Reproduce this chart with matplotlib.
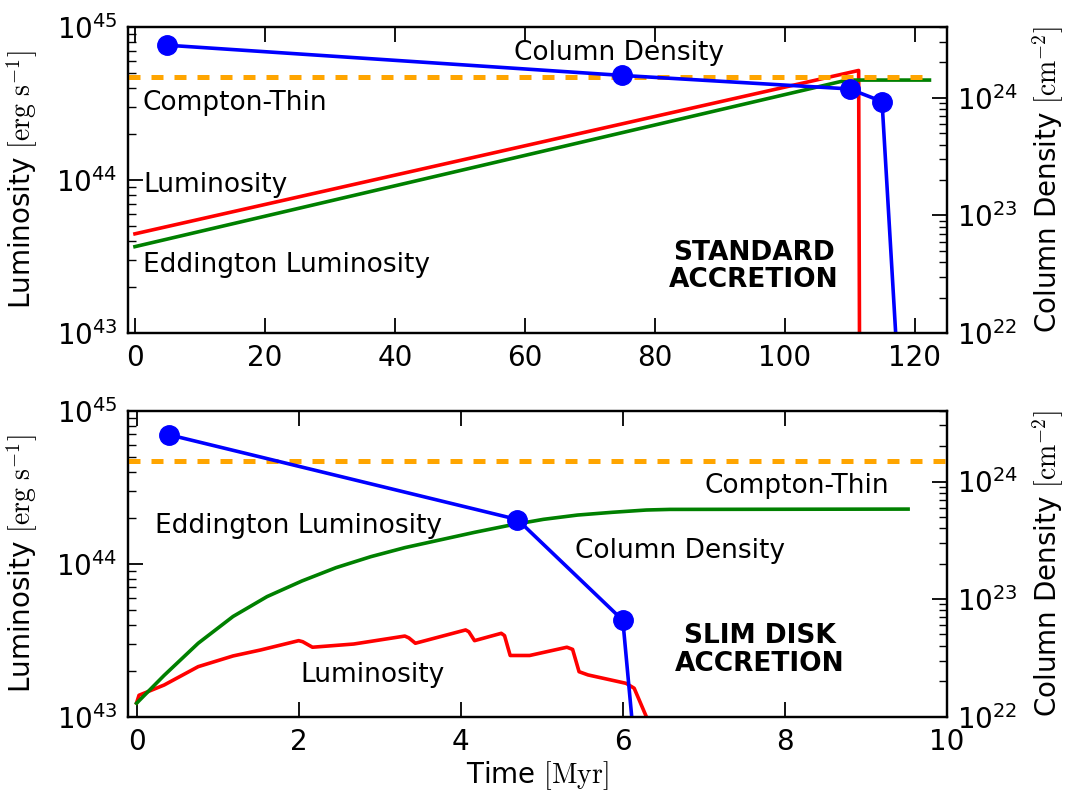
import matplotlib
matplotlib.use("Agg")
import matplotlib.pyplot as plt
from matplotlib.ticker import LogLocator, NullFormatter

plt.rcParams['mathtext.fontset'] = 'cm'
plt.rcParams['font.family'] = ['DejaVu Sans']

# ---------------- data: standard accretion (top) ----------------
std_lum_time = [0, 111.4, 111.6]
std_lum = [4.45e43, 5.2e44, 1e42]
std_edd_time = [0, 109.6, 122.3]
std_edd = [3.67e43, 4.5e44, 4.5e44]
std_nh_time = [5, 75, 110, 115, 120]
std_nh = [2.8e24, 1.55e24, 1.19e24, 0.93e24, 1.9e19]
std_ct_time = [-1, 122.3]
compton_thin = 1.5e24

# ---------------- data: slim disk accretion (bottom) ----------------
slim_edd_time = [0, 0.34, 0.76, 1.19, 1.61, 2.04, 2.46, 2.89, 3.31, 3.74, 4.17, 4.59,
                 5.02, 5.44, 5.87, 6.29, 6.58, 9.52]
slim_edd_log = [43.088, 43.27, 43.48, 43.655, 43.785, 43.887, 43.974, 44.046, 44.105, 44.155,
                44.205, 44.25, 44.29, 44.318, 44.336, 44.351, 44.355, 44.357]
slim_lum_time = [0, 0.03, 0.34, 0.76, 1.19, 1.53, 2.0, 2.05, 2.17, 2.68, 3.31, 3.36, 3.44,
                 4.06, 4.10, 4.17, 4.50, 4.54, 4.61, 4.85, 5.31, 5.38, 5.46, 5.57, 6.04, 6.14,
                 6.29, 6.4]
slim_lum_log = [43.09, 43.14, 43.207, 43.327, 43.397, 43.436, 43.497, 43.49, 43.454, 43.475,
                43.527, 43.515, 43.48, 43.567, 43.555, 43.497, 43.545, 43.53, 43.40, 43.40,
                43.454, 43.44, 43.294, 43.273, 43.218, 43.186, 43.0, 42.8]
slim_nh_time = [0.4, 4.7, 6.0, 6.5]
slim_nh = [2.5e24, 4.75e23, 6.6e22, 1.2e19]
slim_ct_time = [-0.1, 10.1]

slim_edd = [10 ** v for v in slim_edd_log]
slim_lum = [10 ** v for v in slim_lum_log]

FS_TICK = 20
FS_LAB = 20
FS_TXT = 19
LW = 2.6

fig = plt.figure(figsize=(10.68, 7.92), dpi=100)
ax_top = fig.add_axes([0.1203, 0.5795, 0.7664, 0.3864])
ax_bot = fig.add_axes([0.1203, 0.0951, 0.7664, 0.3863])


def style(ax, ax2, xlim, xticks):
    ax.set_yscale('log')
    ax2.set_yscale('log')
    ax.set_xlim(*xlim)
    ax.set_ylim(1e43, 1e45)
    ax2.set_ylim(1e22, 4e24)
    ax.set_xticks(xticks)
    for a in (ax, ax2):
        for s in a.spines.values():
            s.set_linewidth(1.6)
    ax.tick_params(which='both', direction='in', top=True, right=False, labelsize=FS_TICK)
    ax.tick_params(which='major', length=11, width=1.3, pad=8)
    ax.tick_params(which='minor', length=6, width=1.0)
    ax.tick_params(axis='x', which='minor', bottom=False, top=False)
    ax2.tick_params(which='both', direction='in', left=False, right=True, labelsize=FS_TICK)
    ax2.tick_params(which='major', length=11, width=1.3, pad=7)
    ax2.tick_params(which='minor', length=6, width=1.0)
    ax.yaxis.set_major_locator(LogLocator(base=10, numticks=10))
    ax.yaxis.set_minor_locator(LogLocator(base=10, subs=range(2, 10), numticks=20))
    ax.yaxis.set_minor_formatter(NullFormatter())
    ax2.yaxis.set_major_locator(LogLocator(base=10, numticks=10))
    ax2.yaxis.set_minor_locator(LogLocator(base=10, subs=range(2, 10), numticks=20))
    ax2.yaxis.set_minor_formatter(NullFormatter())
    ax.set_ylabel(r'Luminosity $[\rm erg\ s^{-1}]$', fontsize=FS_LAB)
    ax2.set_ylabel(r'Column Density $[\rm cm^{-2}]$', fontsize=FS_LAB, rotation=90)
    ax.yaxis.set_label_coords(-0.108, 0.5)
    ax2.yaxis.set_label_coords(1.102, 0.5)


# ---------------- top panel ----------------
ax2_top = ax_top.twinx()
ax_top.plot(std_lum_time, std_lum, color='red', lw=LW)
ax_top.plot(std_edd_time, std_edd, color='green', lw=LW)
ax2_top.plot(std_ct_time, [compton_thin] * len(std_ct_time), color='orange', lw=3.6,
             linestyle=(0, (2.4, 2.2)))
ax2_top.plot(std_nh_time, std_nh, color='blue', lw=LW, marker='o', ms=14)
style(ax_top, ax2_top, (-1, 125), [0, 20, 40, 60, 80, 100, 120])

t = ax_top.transAxes
ax_top.text(0.599, 0.892, 'Column Density', transform=t, fontsize=FS_TXT, ha='center', va='baseline')
ax_top.text(0.0177, 0.729, 'Compton-Thin', transform=t, fontsize=FS_TXT, ha='left', va='baseline')
ax_top.text(0.0177, 0.462, 'Luminosity', transform=t, fontsize=FS_TXT, ha='left', va='baseline')
ax_top.text(0.0177, 0.200, 'Eddington Luminosity', transform=t, fontsize=FS_TXT, ha='left', va='baseline')
ax_top.text(0.764, 0.150, 'STANDARD\nACCRETION', transform=t, fontsize=FS_TXT, ha='center',
            va='baseline', fontweight='bold', linespacing=1.08)

# ---------------- bottom panel ----------------
ax2_bot = ax_bot.twinx()
ax_bot.plot(slim_lum_time, slim_lum, color='red', lw=LW)
ax_bot.plot(slim_edd_time, slim_edd, color='green', lw=LW)
ax2_bot.plot(slim_ct_time, [compton_thin] * len(slim_ct_time), color='orange', lw=3.6,
             linestyle=(0, (2.4, 2.2)))
ax2_bot.plot(slim_nh_time, slim_nh, color='blue', lw=LW, marker='o', ms=14)
style(ax_bot, ax2_bot, (-0.1, 10), [0, 2, 4, 6, 8, 10])
ax_bot.set_xlabel(r'Time $[\rm Myr]$', fontsize=FS_LAB)
ax_bot.xaxis.set_label_coords(0.5, -0.138)

t = ax_bot.transAxes
ax_bot.text(0.0324, 0.601, 'Eddington Luminosity', transform=t, fontsize=FS_TXT, ha='left', va='baseline')
ax_bot.text(0.2104, 0.114, 'Luminosity', transform=t, fontsize=FS_TXT, ha='left', va='baseline')
ax_bot.text(0.5455, 0.518, 'Column Density', transform=t, fontsize=FS_TXT, ha='left', va='baseline')
ax_bot.text(0.7043, 0.730, 'Compton-Thin', transform=t, fontsize=FS_TXT, ha='left', va='baseline')
ax_bot.text(0.7715, 0.150, 'SLIM DISK\nACCRETION', transform=t, fontsize=FS_TXT, ha='center',
            va='baseline', fontweight='bold', linespacing=1.08)

fig.savefig('out.png', dpi=100)
